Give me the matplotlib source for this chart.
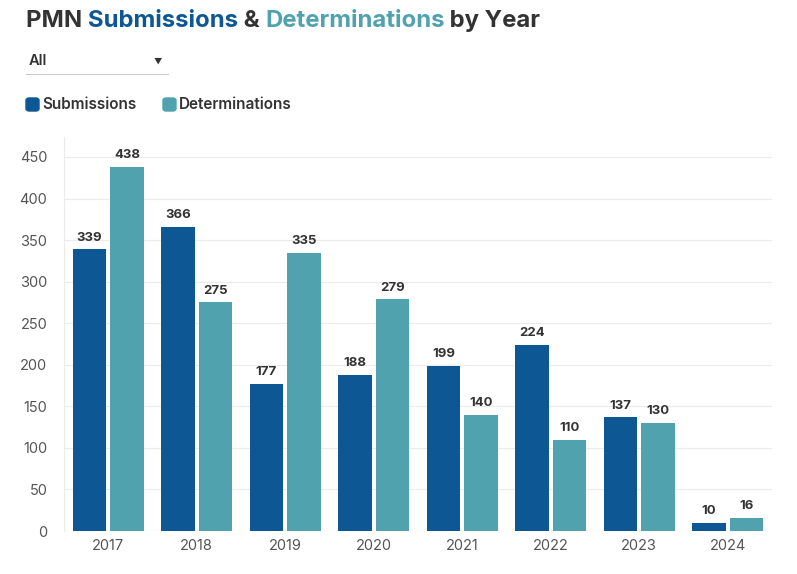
import matplotlib
matplotlib.use('Agg')
import matplotlib.pyplot as plt
import numpy as np
from matplotlib.patches import FancyBboxPatch
from matplotlib.lines import Line2D

plt.rcParams['font.family'] = ['Inter', 'DejaVu Sans']

years = ['2017', '2018', '2019', '2020', '2021', '2022', '2023', '2024']
submissions = [339, 366, 177, 188, 199, 224, 137, 10]
determinations = [438, 275, 335, 279, 140, 110, 130, 16]

blue = '#0c5794'
teal = '#50a3ae'
dark = '#333333'

fig = plt.figure(figsize=(7.97, 5.74), dpi=100)
ax = fig.add_axes([0.0803, 0.0749, 0.8883, 0.6864])

x = np.arange(len(years))
w = 0.376
b1 = ax.bar(x - 0.212, submissions, w, color=blue, label='Submissions', zorder=2)
b2 = ax.bar(x + 0.212, determinations, w, color=teal, label='Determinations', zorder=2)

# value labels above bars
for bars in (b1, b2):
    for p in bars:
        ax.annotate(str(int(p.get_height())), (p.get_x() + p.get_width() / 2, p.get_height()),
                    xytext=(0, 4), textcoords='offset points', ha='center', va='bottom',
                    fontsize=9.5, fontweight='bold', color=dark)

ax.set_xlim(-0.5, 7.5)
ax.set_ylim(0, 474)
ax.set_yticks(range(0, 451, 50))
ax.set_xticks(x)
ax.set_xticklabels(years)
ax.grid(axis='y', color='#ebebeb', linewidth=0.8, zorder=0)
for s in ['top', 'right', 'bottom']:
    ax.spines[s].set_visible(False)
ax.spines['left'].set_color('#ebebeb')
ax.axhline(0, color='#e6e6e6', linewidth=0.8, zorder=1)
ax.tick_params(axis='both', length=0, labelsize=10.5, labelcolor='#555555')
ax.tick_params(axis='y', pad=12)
ax.tick_params(axis='x', pad=6)

# title in coloured pieces
parts = [('PMN ', dark), ('Submissions', blue), (' & ', dark), ('Determinations', teal), (' by Year', dark)]
renderer = fig.canvas.get_renderer()
xpos = 26
for txt, col in parts:
    tt = fig.text(xpos / 797, 1 - 21 / 574, txt, color=col, fontsize=17.2, fontweight='bold',
                  va='center', ha='left')
    xpos += tt.get_window_extent(renderer=renderer).width

# dropdown
fig.text(29 / 797, 1 - 61 / 574, 'All', fontsize=10.5, fontweight='semibold', color=dark, va='center')
fig.text(158 / 797, 1 - 61 / 574, '\u25BC', fontsize=6, color=dark, va='center', ha='center')
fig.add_artist(Line2D([26 / 797, 168 / 797], [1 - 74 / 574, 1 - 74 / 574], color='#cccccc', linewidth=0.8))

# legend
leg_items = [('Submissions', blue, 26), ('Determinations', teal, 163)]
for name, col, px in leg_items:
    fig.add_artist(FancyBboxPatch((px / 797, 1 - 111 / 574), 13 / 797, 13 / 574,
                                  boxstyle='round,pad=0,rounding_size=0.004', color=col,
                                  transform=fig.transFigure))
    fig.text((px + 16) / 797, 1 - 105 / 574, name, fontsize=11, fontweight='semibold',
             color=dark, va='center')

fig.savefig('out.png', dpi=100)
